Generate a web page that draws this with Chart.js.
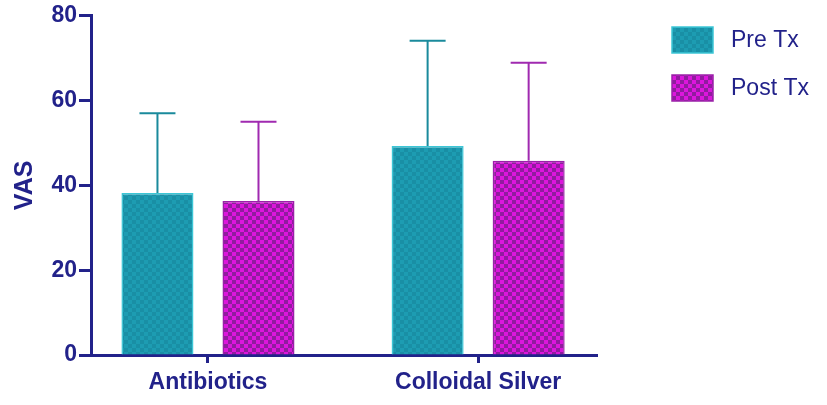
<!DOCTYPE html>
<html>
<head>
<meta charset="utf-8">
<script src="https://cdn.jsdelivr.net/npm/chart.js@4"></script>
<style>
    html, body { margin: 0; padding: 0; background: #ffffff; }
    #wrap { width: 827px; height: 405px; }
</style>
</head>
<body>
<div id="wrap"><canvas id="vasChart" width="827" height="405"></canvas></div>
<script>
// chart data
const categories = ['Antibiotics', 'Colloidal Silver'];
const seriesNames = ['Pre Tx', 'Post Tx'];
const preMeans = [38.2, 49.3];
const postMeans = [36.3, 45.8];
const preSD = [18.8, 24.8];
const postSD = [18.7, 23.1];
const yTicks = [0, 20, 40, 60, 80];

const navy = '#22228a';
const fontFamily = "'Liberation Sans', Arial, sans-serif";

// small checker fill like the printed hatch
function makeChecker(base, dark, size) {
    const cv = document.createElement('canvas');
    cv.width = size * 2;
    cv.height = size * 2;
    const c = cv.getContext('2d');
    c.fillStyle = base;
    c.fillRect(0, 0, size * 2, size * 2);
    c.fillStyle = dark;
    c.fillRect(0, 0, size, size);
    c.fillRect(size, size, size, size);
    return c.createPattern(cv, 'repeat');
}

const tealFill = makeChecker('#1d9cb2', '#198fa5', 4);
const magentaFill = makeChecker('#dc16dc', '#901c9e', 4);

const errorColors = ['#1a8a9c', '#a02ab0'];
const errorData = [preSD, postSD];

// error bars (upper whisker only) drawn from the bar elements
const errorBarPlugin = {
    id: 'errorBars',
    afterDatasetsDraw(chart) {
        const ctx = chart.ctx;
        const yScale = chart.scales.y;
        chart.data.datasets.forEach((ds, di) => {
            const meta = chart.getDatasetMeta(di);
            meta.data.forEach((bar, i) => {
                const top = yScale.getPixelForValue(ds.data[i].y + errorData[di][i]);
                ctx.save();
                ctx.strokeStyle = errorColors[di];
                ctx.lineWidth = 2;
                ctx.beginPath();
                ctx.moveTo(bar.x, bar.y);
                ctx.lineTo(bar.x, top);
                ctx.moveTo(bar.x - 18, top);
                ctx.lineTo(bar.x + 18, top);
                ctx.stroke();
                ctx.restore();
            });
        });
    }
};

// legend at the top right
const sideLegendPlugin = {
    id: 'sideLegend',
    afterDraw(chart) {
        const ctx = chart.ctx;
        chart.data.datasets.forEach((ds, i) => {
            const x = 672;
            const y = 27 + i * 48;
            ctx.save();
            ctx.fillStyle = ds.backgroundColor;
            ctx.fillRect(x, y, 41, 26);
            ctx.strokeStyle = ds.borderColor;
            ctx.lineWidth = 1.5;
            ctx.strokeRect(x, y, 41, 26);
            ctx.fillStyle = navy;
            ctx.font = '23px ' + fontFamily;
            ctx.textBaseline = 'middle';
            ctx.fillText(ds.label, 731, y + 14);
            ctx.restore();
        });
    }
};

const ctx = document.getElementById('vasChart');

new Chart(ctx, {
    type: 'bar',
    data: {
        datasets: [{
            label: seriesNames[0],
            data: preMeans.map((v, i) => ({ x: i, y: v })),
            backgroundColor: tealFill,
            borderColor: '#3cc6d6',
            borderWidth: 1.5
        }, {
            label: seriesNames[1],
            data: postMeans.map((v, i) => ({ x: i, y: v })),
            backgroundColor: magentaFill,
            borderColor: '#9a22a8',
            borderWidth: 1.5
        }]
    },
    options: {
        responsive: false,
        animation: false,
        categoryPercentage: 0.748,
        barPercentage: 0.713,
        layout: {
            padding: { left: 8, top: 7, right: 230, bottom: 0 }
        },
        plugins: {
            legend: { display: false },
            tooltip: { enabled: false }
        },
        scales: {
            x: {
                type: 'linear',
                min: -0.433,
                max: 1.44,
                offset: false,
                afterFit(scale) { scale.height = 50; },
                afterBuildTicks(scale) {
                    scale.ticks = categories.map((c, i) => ({ value: i }));
                },
                grid: {
                    offset: false,
                    drawOnChartArea: false,
                    drawTicks: true,
                    tickLength: 8,
                    tickWidth: 3,
                    tickColor: navy
                },
                border: { display: true, color: navy, width: 3 },
                ticks: {
                    color: navy,
                    padding: 6,
                    autoSkip: false,
                    maxRotation: 0,
                    font: { family: fontFamily, size: 23, weight: 'bold' },
                    callback: (value) => categories[value]
                }
            },
            y: {
                min: 0,
                max: 80,
                afterFit(scale) { scale.width = 83; },
                afterBuildTicks(scale) {
                    scale.ticks = yTicks.map(v => ({ value: v }));
                },
                grid: {
                    drawOnChartArea: false,
                    drawTicks: true,
                    tickLength: 12,
                    tickWidth: 3,
                    tickColor: navy
                },
                border: { display: true, color: navy, width: 3 },
                ticks: {
                    color: navy,
                    padding: 2,
                    font: { family: fontFamily, size: 23, weight: 'bold' }
                },
                title: {
                    display: true,
                    text: 'VAS',
                    color: navy,
                    padding: { top: 2, bottom: 0 },
                    font: { family: fontFamily, size: 25, weight: 'bold' }
                }
            }
        }
    },
    plugins: [errorBarPlugin, sideLegendPlugin]
});
</script>
</body>
</html>
